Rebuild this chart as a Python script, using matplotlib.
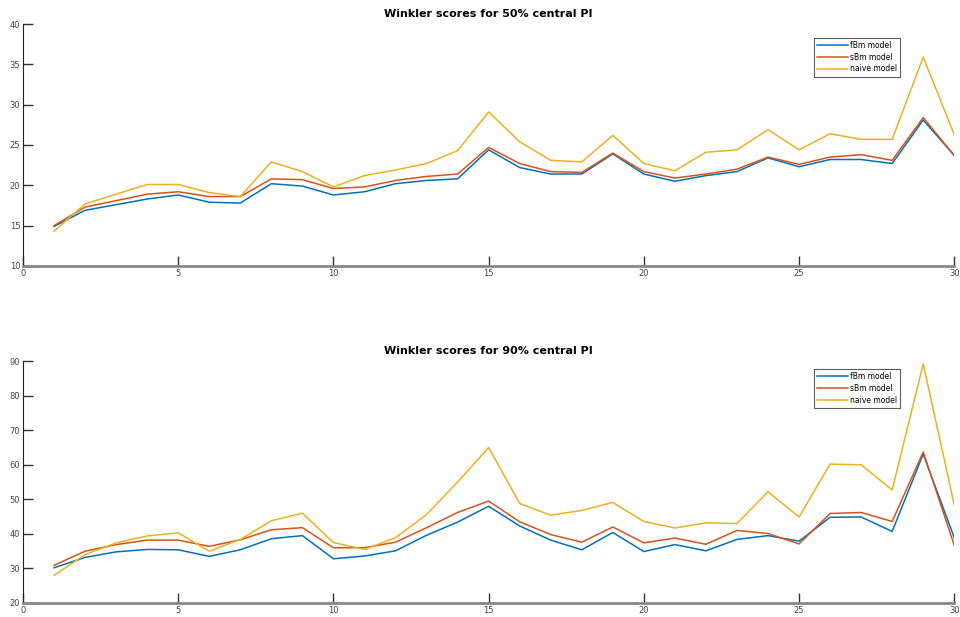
import matplotlib.pyplot as plt
import numpy as np

x = np.arange(1, 31)

# Winkler scores, 50% central PI
fbm_50 = [14.9, 16.9, 17.6, 18.3, 18.8, 17.9, 17.8, 20.2, 19.9, 18.8,
          19.2, 20.2, 20.6, 20.8, 24.4, 22.2, 21.4, 21.4, 23.9, 21.4,
          20.5, 21.2, 21.7, 23.4, 22.3, 23.2, 23.2, 22.7, 28.1, 23.7]
sbm_50 = [15.0, 17.3, 18.1, 18.9, 19.2, 18.6, 18.6, 20.8, 20.7, 19.6,
          19.8, 20.6, 21.1, 21.4, 24.7, 22.7, 21.7, 21.6, 24.0, 21.7,
          20.9, 21.4, 22.0, 23.5, 22.6, 23.5, 23.8, 23.1, 28.4, 23.7]
naive_50 = [14.3, 17.7, 18.9, 20.1, 20.1, 19.1, 18.6, 22.9, 21.7, 19.8,
            21.2, 21.9, 22.7, 24.3, 29.1, 25.4, 23.1, 22.9, 26.2, 22.7,
            21.8, 24.1, 24.4, 26.9, 24.4, 26.4, 25.7, 25.7, 35.9, 26.3]

# Winkler scores, 90% central PI
fbm_90 = [30.2, 33.2, 34.8, 35.5, 35.4, 33.5, 35.4, 38.6, 39.5, 32.8,
          33.6, 35.1, 39.6, 43.4, 48.0, 42.3, 38.2, 35.4, 40.4, 34.9,
          36.9, 35.1, 38.4, 39.5, 37.9, 44.8, 44.9, 40.7, 63.1, 38.9]
sbm_90 = [30.9, 35.0, 36.9, 38.2, 38.2, 36.4, 38.3, 41.2, 41.8, 36.0,
          36.0, 37.6, 41.8, 46.2, 49.5, 43.5, 39.8, 37.6, 42.0, 37.4,
          38.8, 37.0, 41.0, 40.1, 37.1, 45.9, 46.2, 43.6, 63.7, 36.7]
naive_90 = [28.0, 34.0, 37.4, 39.4, 40.3, 35.0, 38.4, 43.8, 46.0, 37.5,
            35.5, 38.9, 45.6, 55.0, 65.0, 48.8, 45.4, 46.8, 49.1, 43.6,
            41.7, 43.2, 43.0, 52.2, 44.9, 60.2, 60.0, 52.7, 89.2, 48.4]

labels = ['fBm model', 'sBm model', 'naive model']
colors = ['#0072BD', '#D95319', '#EDB120']

fig = plt.figure(figsize=(9.6, 6.17), dpi=100)
ax1 = fig.add_axes([0.024, 0.569, 0.970, 0.392])
ax2 = fig.add_axes([0.024, 0.0227, 0.970, 0.392])

panels = [
    (ax1, [fbm_50, sbm_50, naive_50], 'Winkler scores for 50% central PI',
     (10, 40), np.arange(10, 41, 5), 0.942),
    (ax2, [fbm_90, sbm_90, naive_90], 'Winkler scores for 90% central PI',
     (20, 90), np.arange(20, 91, 10), 0.967),
]

for ax, series, title, ylim, yticks, leg_top in panels:
    for vals, lab, col in zip(series, labels, colors):
        ax.plot(x, vals, color=col, lw=1.1, label=lab)
    ax.set_xlim(0, 30)
    ax.set_ylim(*ylim)
    ax.set_xticks(np.arange(0, 31, 5))
    ax.set_yticks(yticks)
    ax.set_title(title, fontsize=8, fontweight='bold', pad=5)
    ax.spines['top'].set_visible(False)
    ax.spines['right'].set_visible(False)
    ax.spines['left'].set_color('#222222')
    ax.spines['bottom'].set_color('#888888')
    ax.spines['bottom'].set_linewidth(2)
    ax.tick_params(direction='in', length=7, width=1, color='#333333',
                   labelsize=6, labelcolor='#444444', pad=2)
    leg = ax.legend(loc='upper right', bbox_to_anchor=(0.942, leg_top),
                    fontsize=5.5, frameon=True, fancybox=False,
                    handlelength=4, borderpad=0.4, labelspacing=0.35,
                    handletextpad=0.3, borderaxespad=0)
    leg.get_frame().set_edgecolor('#333333')
    leg.get_frame().set_linewidth(0.8)

plt.savefig('out.png', dpi=100)
